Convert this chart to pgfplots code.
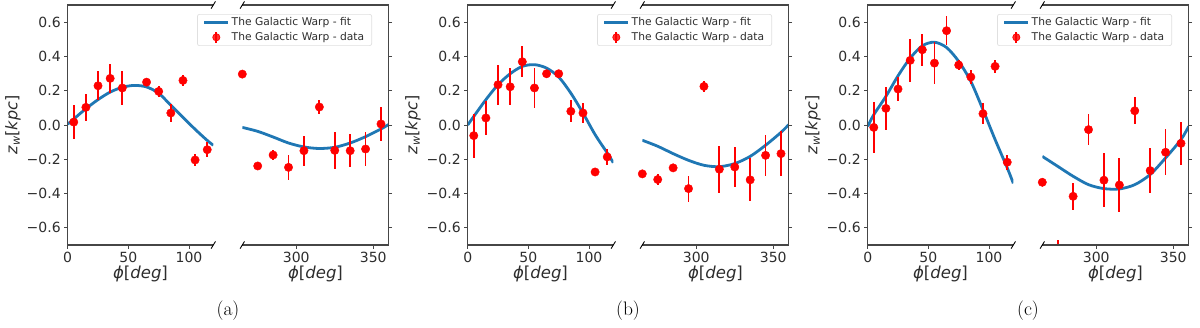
\documentclass[border=0pt]{standalone}
\usepackage{fontspec}
\usepackage{pgfplots}
\usepackage{pgfplotstable}
\pgfplotsset{compat=1.18}
\newfontfamily\dv{DejaVu Sans}
\definecolor{mblue}{RGB}{31,119,180}
\definecolor{spinec}{RGB}{70,70,70}
\definecolor{textc}{RGB}{45,45,45}
\definecolor{mred}{RGB}{255,0,0}

% ---------- data: x, y, error ----------
\pgfplotstableread{
x y e
5 0.017 0.097
15 0.103 0.080
25 0.229 0.085
35 0.272 0.085
45 0.216 0.100
65 0.250 0.017
75 0.196 0.033
85 0.070 0.050
95 0.260 0.032
105 -0.204 0.036
115 -0.144 0.043
}\datAL
\pgfplotstableread{
x y e
265 0.297 0.010
275 -0.239 0.015
285 -0.175 0.027
295 -0.247 0.072
305 -0.150 0.087
315 0.105 0.043
325 -0.148 0.110
335 -0.150 0.097
345 -0.140 0.097
355 0.006 0.097
}\datAR
\pgfplotstableread{
x y
0 0.005
5 0.035
15 0.095
25 0.148
35 0.192
45 0.220
55 0.231
65 0.222
75 0.185
85 0.115
95 0.045
105 -0.025
115 -0.090
120 -0.118
}\fitAL
\pgfplotstableread{
x y
265 -0.014
275 -0.037
285 -0.070
295 -0.105
305 -0.128
315 -0.137
325 -0.130
335 -0.105
345 -0.068
355 -0.023
360 0.003
}\fitAR

\pgfplotstableread{
x y e
5 -0.062 0.128
15 0.041 0.100
25 0.235 0.117
35 0.223 0.109
45 0.369 0.089
55 0.216 0.115
65 0.299 0.020
75 0.299 0.020
85 0.080 0.064
95 0.070 0.058
105 -0.274 0.025
115 -0.186 0.048
}\datBL
\pgfplotstableread{
x y e
265 -0.285 0.020
275 -0.318 0.030
285 -0.250 0.015
295 -0.371 0.076
305 0.225 0.034
315 -0.258 0.138
325 -0.245 0.118
335 -0.320 0.125
345 -0.177 0.121
355 -0.167 0.130
}\datBR
\pgfplotstableread{
x y
0 0.000
5 0.050
15 0.148
25 0.235
35 0.299
45 0.342
55 0.352
65 0.332
75 0.280
85 0.186
95 0.070
105 -0.056
115 -0.163
120 -0.220
}\fitBL
\pgfplotstableread{
x y
265 -0.089
275 -0.124
285 -0.167
295 -0.206
305 -0.235
315 -0.243
325 -0.225
335 -0.183
345 -0.118
355 -0.043
360 0.002
}\fitBR

\pgfplotstableread{
x y e
5 -0.014 0.148
15 0.097 0.124
25 0.210 0.071
35 0.377 0.124
45 0.439 0.094
55 0.361 0.122
65 0.550 0.085
75 0.350 0.027
85 0.280 0.041
95 0.066 0.063
105 0.342 0.039
115 -0.217 0.044
}\datCL
\pgfplotstableread{
x y e
265 -0.334 0.025
275 -0.760 0.088
285 -0.416 0.080
295 -0.027 0.092
305 -0.322 0.157
315 -0.350 0.155
325 0.083 0.080
335 -0.266 0.131
345 -0.159 0.133
355 -0.107 0.127
}\datCR
\pgfplotstableread{
x y
0 -0.008
5 0.060
15 0.167
25 0.287
35 0.390
45 0.462
55 0.483
65 0.452
75 0.371
85 0.254
95 0.089
105 -0.085
115 -0.250
120 -0.340
}\fitCL
\pgfplotstableread{
x y
265 -0.183
275 -0.241
285 -0.299
295 -0.348
305 -0.371
315 -0.373
325 -0.348
335 -0.289
345 -0.192
355 -0.085
360 -0.008
}\fitCR

\tikzset{
  spine/.style={spinec, line width=1.2pt},
  brk/.style={black, line width=0.9pt},
}

\pgfplotsset{
  common/.style={
    scale only axis, height=240pt, anchor=north west,
    ymin=-0.7, ymax=0.7,
    ytick={-0.6,-0.4,-0.2,0,0.2,0.4,0.6},
    axis line style={draw=none},
    tick align=outside, major tick length=3.5pt,
    every tick/.style={spinec, line width=0.9pt},
    xtick pos=left,
    clip mode=individual,
    tick label style={font=\dv\fontsize{14}{16}\selectfont, text=textc},
    xlabel={{\itshape ϕ}[{\itshape deg}]},
    xlabel style={at={(axis description cs:0.5,-0.121)}, anchor=center,
      font=\dv\fontsize{16.5}{19}\selectfont, text=textc},
  },
  leftax/.style={common, width=145.6pt, xmin=0, xmax=120,
    xtick={0,50,100}, xticklabels={0,50,100},
    ytick pos=left,
    yticklabels={−0.6,−0.4,−0.2,0.0,0.2,0.4,0.6},
    ylabel={{\itshape z}\textsubscript{\itshape w}[{\itshape kpc}]},
    ylabel style={at={(axis description cs:-0.376,0.5)}, anchor=center,
      font=\dv\fontsize{16}{18}\selectfont, text=textc},
  },
  rightax/.style={common, width=146.4pt, xmin=265, xmax=360,
    xtick={300,350}, xticklabels={300,350},
    ytick pos=right, yticklabels={},
    legend style={at={(axis description cs:0.886,0.9625)}, anchor=north east,
      draw=black!12, line width=0.7pt, rounded corners=2pt,
      fill=white, fill opacity=0.8, text opacity=1,
      font=\dv\fontsize{10.7}{12}\selectfont, text=textc,
      inner xsep=5.5pt, inner ysep=1.5pt, row sep=1pt},
    legend cell align=left,
  },
  fitline/.style={mblue, line width=2.8pt, smooth, no markers,
    legend image code/.code={\draw[mblue, line width=2.8pt] (0pt,0pt) -- (24pt,0pt);}},
  datalegend/.style={legend image code/.code={%
    \draw[mred, line width=1.8pt] (12pt,-5.5pt) -- (12pt,5.5pt);
    \fill[mred] (12pt,0pt) circle (3.6pt);}},
  datapts/.style={only marks, mark=*, mark size=4.2pt, mred,
    mark options={fill=mred, draw=none},
    error bars/.cd, y dir=both, y explicit,
    error bar style={draw=mred, solid, line width=1.8pt}, error mark=none},
}

\newcommand{\panel}[6]{%
  \begin{axis}[leftax, at={(#1pt+67.7pt,-5pt)}]
    \addplot[fitline] table[x=x,y=y] {#4};
    \addplot[datapts] table[x=x,y=y,y error=e] {#2};
    \draw[spine] (rel axis cs:1,1) -- (rel axis cs:0,1) -- (rel axis cs:0,0) -- (rel axis cs:1,0);
    \draw[brk] (rel axis cs:0.985,-0.015) -- (rel axis cs:1.015,0.015);
    \draw[brk] (rel axis cs:0.985,0.985) -- (rel axis cs:1.015,1.015);
  \end{axis}
  \begin{axis}[rightax, at={(#1pt+242.3pt,-5pt)}]
    \addplot[fitline] table[x=x,y=y] {#5};
    \addlegendentry{The Galactic Warp - fit}
    \addplot[datalegend, datapts] table[x=x,y=y,y error=e] {#3};
    \addlegendentry{The Galactic Warp - data}
    \draw[spine] (rel axis cs:0,1) -- (rel axis cs:1,1) -- (rel axis cs:1,0) -- (rel axis cs:0,0);
    \draw[brk] (rel axis cs:-0.015,-0.015) -- (rel axis cs:0.015,0.015);
    \draw[brk] (rel axis cs:-0.015,0.985) -- (rel axis cs:0.015,1.015);
  \end{axis}
  \node[font=\fontsize{19.5}{22}\selectfont] at (#1pt+228pt,-311pt) {#6};
}

\begin{document}
\begin{tikzpicture}
  \useasboundingbox (0pt,0pt) rectangle (1200pt,-327pt);
  \panel{0}{\datAL}{\datAR}{\fitAL}{\fitAR}{(a)}
  \panel{400}{\datBL}{\datBR}{\fitBL}{\fitBR}{(b)}
  \panel{800}{\datCL}{\datCR}{\fitCL}{\fitCR}{(c)}
\end{tikzpicture}
\end{document}
